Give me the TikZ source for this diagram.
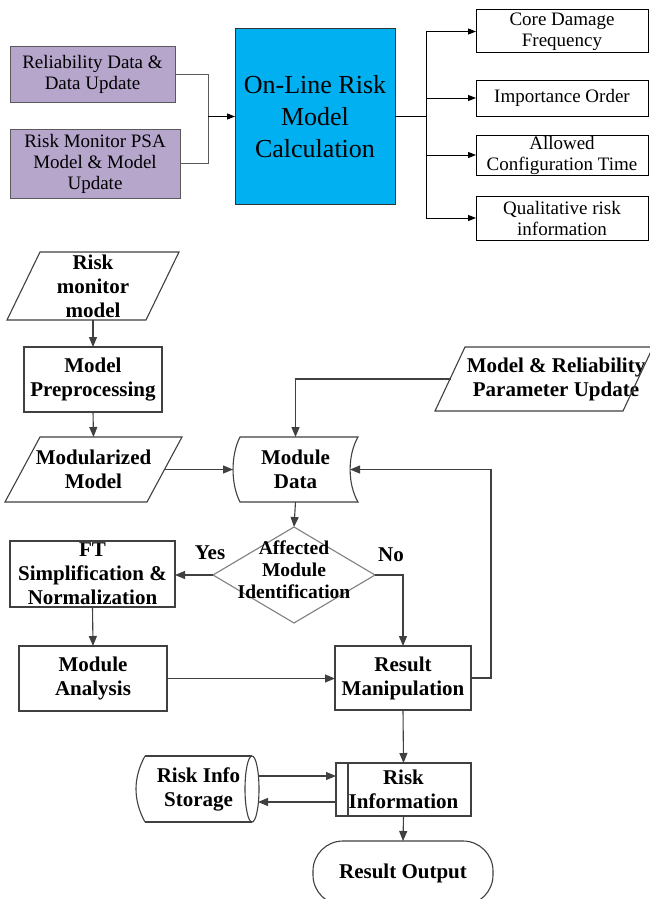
\documentclass[tikz,border=0pt]{standalone}
\usepackage{fontspec}
\setmainfont{Liberation Serif}
\usetikzlibrary{arrows.meta,calc}
\definecolor{lav}{RGB}{182,166,204}
\definecolor{cyanb}{RGB}{0,176,240}
\definecolor{dg}{RGB}{64,64,64}
\definecolor{mg}{RGB}{128,128,128}
\definecolor{bg}{RGB}{90,90,90}
\begin{document}
\begin{tikzpicture}[x=1pt,y=-1pt,
  every node/.style={inner sep=0pt, outer sep=0pt, align=center},
  topfont/.style={font=\fontsize{19}{21}\selectfont},
  pbox/.style={topfont, draw=bg, fill=lav, line width=1pt},
  cbox/.style={draw=black!80, fill=cyanb, line width=1pt, font=\fontsize{26}{32}\selectfont},
  obox/.style={topfont, draw=black, line width=1pt},
  bline/.style={draw=black, line width=1pt},
  gline/.style={draw=bg, line width=1pt},
  barr/.style={bline, -{Triangle[length=8pt,width=6pt]}},
  bfont/.style={font=\fontsize{21}{24}\selectfont\bfseries},
  txt/.style={bfont},
  dbox/.style={bfont, draw=dg, line width=1.1pt},
  dshape/.style={draw=dg, line width=1.1pt},
  darr/.style={draw=dg, line width=1.1pt, -{Triangle[length=10pt,width=8pt]}}
]
\fill[white] (0,0) rectangle (649,899);
\useasboundingbox (0,0) rectangle (649,899);

% ---------- top part ----------
\node[pbox, minimum width=165, minimum height=55] (rel) at (92.5,74.5) {Reliability Data \&\\Data Update};
\node[pbox, minimum width=170, minimum height=69] (rmp) at (95,163.5) {Risk Monitor PSA\\Model \& Model\\Update};
\node[cbox, minimum width=160, minimum height=175] (calc) at (315,116.5) {On-Line Risk\\Model\\Calculation};
\node[obox, minimum width=172, minimum height=43] (cdf) at (562,31.5) {Core Damage\\Frequency};
\node[obox, minimum width=172, minimum height=36] (imp) at (562,98) {Importance Order};
\node[obox, minimum width=172, minimum height=40] (act) at (562,155) {Allowed\\Configuration Time};
\node[obox, minimum width=172, minimum height=44] (qual) at (562,218) {Qualitative risk\\information};

\coordinate (j1) at (208,116.5);
\draw[gline] (rel.east) -| (j1);
\draw[gline] (rmp.east) -| (j1);
\draw[barr] (j1) -- (calc.west);
\coordinate (j2) at (426,116.5);
\draw[bline] (calc.east) -- (j2);
\draw[barr] (j2) |- (cdf.west);
\draw[barr] (j2) |- (imp.west);
\draw[barr] (j2) |- (act.west);
\draw[barr] (j2) |- (qual.west);

% ---------- bottom part ----------
\node[txt, minimum width=172, minimum height=68] (rmm) at (93,286) {Risk\\monitor\\model};
\draw[dshape] ($(rmm.north west)+(33,0)$) -- (rmm.north east) -- ($(rmm.south east)+(-33,0)$) -- (rmm.south west) -- cycle;

\node[dbox, minimum width=138, minimum height=65] (mpp) at (93,379.5) {Model\\Preprocessing};

\node[txt, minimum width=177, minimum height=65] (modm) at (93.5,469.5) {Modularized\\Model};
\draw[dshape] ($(modm.north west)+(35,0)$) -- (modm.north east) -- ($(modm.south east)+(-35,0)$) -- (modm.south west) -- cycle;
\coordinate (modR) at (165,469.5);

\node[txt, minimum width=125, minimum height=65] (mdata) at (295.5,469.5) {Module\\Data};
\draw[dshape] ($(mdata.north west)+(7,0)$) -- (mdata.north east)
  .. controls ($(mdata.north east)+(-10.5,18)$) and ($(mdata.south east)+(-10.5,-18)$) .. (mdata.south east)
  -- ($(mdata.south west)+(7,0)$)
  .. controls ($(mdata.south west)+(-2.3,-18)$) and ($(mdata.north west)+(-2.3,18)$) .. ($(mdata.north west)+(7,0)$) -- cycle;
\coordinate (mdR) at (350,469.5);

\node[txt, minimum width=218, minimum height=64] (mrp) at (556,379) {Model \& Reliability\\Parameter Update};
\draw[dshape] ($(mrp.north west)+(18,0)$) -- ($(mrp.north east)+(-12,0)$) -- ($(mrp.south east)+(-42,0)$) -- ($(mrp.south west)+(-12,0)$) -- cycle;
\coordinate (mrpL) at ($(mrp.west)+(3.5,0)$);

\node[minimum width=162, minimum height=96] (dia) at (294,575) {};
\draw[draw=mg, line width=1.1pt] (dia.north) -- (dia.east) -- (dia.south) -- (dia.west) -- cycle;
\node[font=\fontsize{19.5}{22}\selectfont\bfseries] (diat) at (294,570) {Affected\\Module\\Identification};

\node[dbox, minimum width=165, minimum height=66] (ft) at (92.5,574) {FT\\Simplification \&\\Normalization};
\node[dbox, minimum width=148, minimum height=65] (ma) at (93,678.5) {Module\\Analysis};
\node[dbox, minimum width=136, minimum height=64] (rm) at (403,678) {Result\\Manipulation};
\node[dbox, minimum width=135, minimum height=53] (ri) at (403.5,789.5) {Risk\\Information};
\draw[dshape] ($(ri.north west)+(12,0)$) -- ($(ri.south west)+(12,0)$);

\node[txt, minimum width=107, minimum height=66] (ris) at (198.5,789) {Risk Info\\Storage};
\draw[dshape] (ris.north west) -- (ris.north east);
\draw[dshape] (ris.south west) -- (ris.south east);
\draw[dshape] (ris.north west) .. controls ($(ris.north west)+(-12,22)$) and ($(ris.south west)+(-12,-22)$) .. (ris.south west);
\draw[dshape] (ris.east) ellipse [x radius=7, y radius=33];
\coordinate (risR1) at (258,776);
\coordinate (risR2) at (258,802);

\node[txt, draw=dg, line width=1.1pt, rounded corners=30pt, minimum width=180, minimum height=64] (ro) at (403,873) {Result Output};

\node[bfont] (yes) at (210,553) {Yes};
\node[bfont] (no) at (391,555) {No};

% connectors
\draw[darr] (rmm.south) -- (mpp.north);
\draw[darr] (mpp.south) -- (modm.north);
\draw[darr] (modR) -- (mdata.west);
\draw[darr] (mrpL) -| (mdata.north);
\draw[darr] (mdata.south) -- (dia.north);
\draw[darr] (dia.west) -- (dia.west -| ft.east);
\draw[darr] (dia.east) -| (rm.north);
\draw[darr] (ft.south) -- (ma.north);
\draw[darr] (ma.east) -- (ma.east -| rm.west);
\coordinate (lp) at (491,469.5);
\draw[darr] (rm.east) -| (lp) -- (mdR);
\draw[darr] (rm.south) -- (ri.north);
\draw[darr] (risR1) -- (risR1 -| ri.west);
\draw[darr] (risR2 -| ri.west) -- (risR2);
\draw[darr] (ri.south) -- (ro.north);
\end{tikzpicture}
\end{document}
